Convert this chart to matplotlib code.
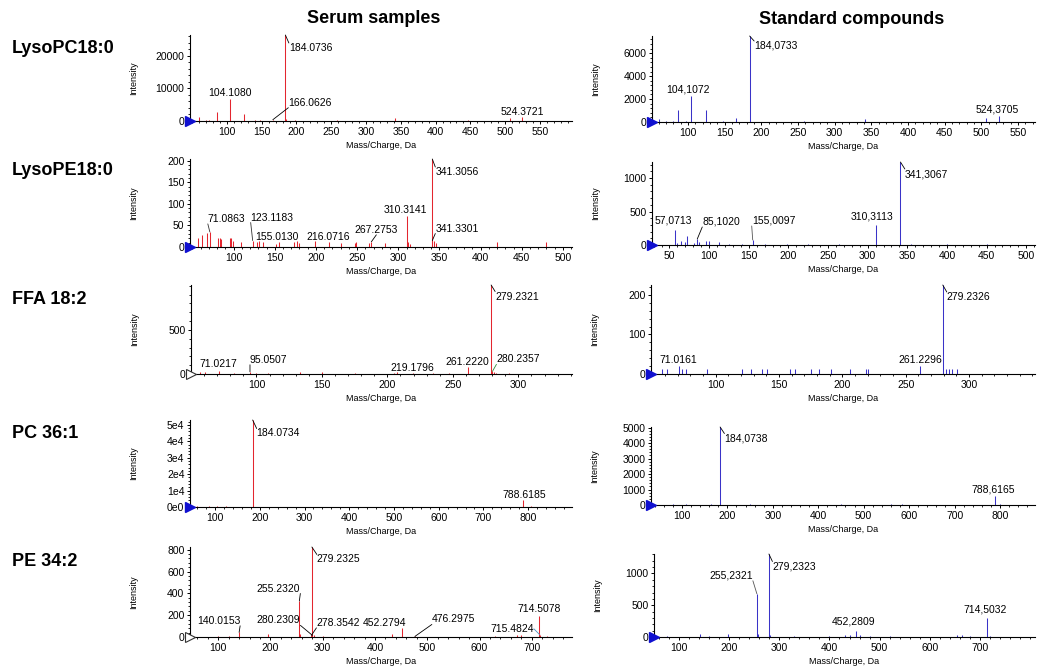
import matplotlib
matplotlib.use("Agg")
import matplotlib.pyplot as plt
from matplotlib.ticker import AutoMinorLocator, FixedLocator, FuncFormatter

W, H, DPI = 1039, 670, 100
PX = 72.0 / DPI  # points per pixel

SERUM_RED = "#e3262f"
STD_BLUE = "#3a33c8"

# ---------------- spectra (m/z, intensity) ----------------
# LysoPC 18:0
lpc_serum_mz = [60.08, 70.07, 75.0, 86.10, 92.0, 104.11, 115.0, 125.00, 140.0, 147.07,
                160.0, 166.06, 184.07, 185.08, 198.09, 215.0, 258.11, 300.0, 341.30,
                390.0, 446.30, 480.0, 506.36, 524.37, 560.0]
lpc_serum_int = [1100, 300, 200, 2770, 150, 6670, 150, 2150, 200, 250,
                 150, 400, 26460, 600, 200, 150, 300, 150, 800,
                 150, 200, 150, 800, 1100, 150]
lpc_serum_labels = ["184.0736", "104.1080", "166.0626", "524.3721"]

lpc_std_mz = [60.08, 70.0, 80.0, 86.10, 98.0, 104.11, 125.00, 148.0, 166.06, 184.07,
              258.0, 341.30, 506.36, 524.37]
lpc_std_int = [260, 80, 90, 1070, 80, 2230, 1070, 80, 350, 7500,
               80, 290, 380, 500]
lpc_std_labels = ["184,0733", "104,1072", "524,3705"]

# LysoPE 18:0
lpe_serum_mz = [57.07, 61.0, 67.05, 71.09, 81.07, 83.09, 85.1, 95.09, 97.1, 99.1, 109.1,
                123.12, 128.0, 131.0, 135.1, 152.0, 155.01, 173.0, 177.0, 180.0, 199.0,
                216.07, 230.0, 247.0, 249.0, 265.0, 267.28, 284.0, 310.31, 312.0, 314.0,
                341.31, 341.33, 343.3, 345.3, 420.0, 480.0]
lpe_serum_int = [20, 28, 33, 35, 20, 22, 18, 20, 21, 15, 12,
                 15, 12, 14, 12, 8, 12, 12, 14, 10, 14,
                 12, 10, 10, 12, 10, 12, 10, 71, 12, 8,
                 204, 15, 14, 10, 12, 12]
lpe_serum_labels = ["341.3056", "310.3141", "341.3301", "267.2753", "216.0716",
                    "155.0130", "123.1183", "71.0863"]

lpe_std_mz = [57.07, 60.0, 65.0, 69.07, 72.0, 81.0, 85.10, 87.0, 96.5, 99.5, 112.0,
              125.0, 141.0, 155.01, 170.0, 198.0, 225.0, 264.0, 310.31, 341.31,
              355.0, 400.0, 450.0]
lpe_std_int = [225, 30, 65, 40, 140, 30, 90, 50, 65, 60, 40,
               15, 15, 75, 10, 15, 10, 15, 305, 1240,
               15, 10, 10]
lpe_std_labels = ["341,3067", "310,3113", "155,0097", "85,1020", "57,0713"]

# FFA 18:2
ffa_serum_mz = [57.0, 60.5, 71.02, 83.0, 95.05, 100.0, 109.0, 133.0, 149.7, 175.0,
                205.0, 207.5, 219.18, 235.0, 247.0, 261.22, 279.23, 280.24, 281.2,
                283.0, 293.0]
ffa_serum_int = [25, 25, 30, 15, 25, 15, 15, 20, 25, 10,
                 15, 20, 10, 10, 10, 75, 1008, 30, 25,
                 15, 10]
ffa_serum_labels = ["279.2321", "261.2220", "280.2357", "219.1796", "95.0507", "71.0217"]

ffa_std_mz = [58.0, 62.0, 71.02, 73.7, 76.8, 93.4, 121.0, 127.6, 136.8, 140.8, 158.7,
              162.6, 175.5, 181.6, 191.3, 206.0, 219.0, 220.5, 261.23, 279.23, 281.6,
              284.2, 286.8, 290.8]
ffa_std_int = [12, 12, 21, 12, 12, 12, 12, 12, 12, 12, 12,
               12, 12, 12, 12, 12, 12, 12, 21, 225, 12,
               12, 12, 12]
ffa_std_labels = ["279.2326", "261.2296", "71.0161"]

# PC 36:1
pc_serum_mz = [60.0, 86.0, 104.0, 125.0, 160.0, 184.07, 200.0, 250.0, 300.0, 350.0,
               400.0, 450.0, 500.0, 550.0, 600.0, 650.0, 700.0, 750.0, 788.62, 806.0]
pc_serum_int = [400, 500, 600, 400, 300, 53000, 300, 300, 200, 200,
                200, 200, 200, 200, 200, 200, 200, 300, 4000, 500]
pc_serum_labels = ["184.0734", "788.6185"]

pc_std_mz = [80.0, 110.0, 165.0, 184.07, 250.0, 450.0, 560.0, 585.0, 788.62, 800.0]
pc_std_int = [60, 50, 50, 5040, 40, 40, 50, 80, 550, 60]
pc_std_labels = ["184,0738", "788,6165"]

# PE 34:2
pe_serum_mz = [100.0, 120.0, 140.02, 196.0, 255.23, 257.0, 278.35, 279.23, 280.23, 283.0,
               300.0, 432.0, 452.28, 476.30, 630.0, 672.0, 680.0, 714.51, 715.48, 730.0]
pe_serum_int = [10, 10, 43, 30, 330, 30, 15, 825, 15, 20,
                10, 25, 83, 5, 10, 20, 15, 190, 20, 10]
pe_serum_labels = ["279.2325", "255.2320", "140.0153", "280.2309", "278.3542",
                   "452.2794", "476.2975", "715.4824", "714.5078"]

pe_std_mz = [75.0, 142.0, 160.0, 198.0, 255.23, 257.0, 279.23, 282.0, 330.0, 400.0,
             430.0, 440.0, 452.28, 460.0, 480.0, 520.0, 655.0, 665.0, 680.0, 714.50, 720.0]
pe_std_int = [20, 53, 20, 42, 680, 40, 1306, 30, 15, 20,
              25, 30, 96, 30, 20, 15, 25, 30, 20, 298, 15]
pe_std_labels = ["279,2323", "255,2321", "452,2809", "714,5032"]

row_names = ["LysoPC18:0", "LysoPE18:0", "FFA 18:2", "PC 36:1", "PE 34:2"]
col_titles = ["Serum samples", "Standard compounds"]

# ---------------- layout ----------------
# label placement: offset from peak top in px (dx, dy up), ha, va, leader colour
PLACE = {
    "184.0736": (3.5, -8, "left", "top", "k"),
    "104.1080": (0, 1, "center", "bottom", None),
    "166.0626": (15.5, 12, "left", "bottom", "k"),
    "524.3721": (0, 0, "center", "bottom", None),
    "184,0733": (4.5, -5, "left", "top", "k"),
    "104,1072": (-3, 2, "center", "bottom", None),
    "524,3705": (-2, 2, "center", "bottom", None),
    "341.3056": (3, -8, "left", "top", "k"),
    "310.3141": (-1, 1, "center", "bottom", None),
    "341.3301": (3, 7, "left", "bottom", "k"),
    "267.2753": (5, 7, "center", "bottom", "k"),
    "216.0716": (-1, 0, "center", "bottom", None),
    "155.0130": (-2, 0, "center", "bottom", None),
    "123.1183": (-2, 18, "left", "bottom", "#333333"),
    "71.0863": (-2, 8, "left", "bottom", "#333333"),
    "341,3067": (4.4, -7, "left", "top", "k"),
    "310,3113": (-4, 3, "center", "bottom", None),
    "155,0097": (-1, 14, "left", "bottom", "#555555"),
    "85,1020": (5, 12, "left", "bottom", "k"),
    "57,0713": (-2, 4, "center", "bottom", None),
    "279.2321": (4, -6.5, "left", "top", "k"),
    "261.2220": (0, 0, "center", "bottom", None),
    "280.2357": (4, 7, "left", "bottom", "#2e8b3a"),
    "219.1796": (0, 0, "center", "bottom", None),
    "95.0507": (0, 7, "left", "bottom", "k"),
    "71.0217": (0, 2, "center", "bottom", None),
    "279.2326": (4, -7, "left", "top", "k"),
    "261.2296": (0, 1, "center", "bottom", None),
    "71.0161": (-1, 1, "center", "bottom", None),
    "184.0734": (4, -8.5, "left", "top", "k"),
    "788.6185": (1, 0, "center", "bottom", None),
    "184,0738": (4.3, -6.5, "left", "top", "k"),
    "788,6165": (-2, 2, "center", "bottom", None),
    "279.2325": (5, -7.5, "left", "top", "k"),
    "255.2320": (1, 7.5, "right", "bottom", "k"),
    "140.0153": (1, 6.5, "right", "bottom", "k"),
    "280.2309": (-12, 10, "right", "bottom", "k"),
    "278.3542": (5, 7.5, "left", "bottom", "k"),
    "452.2794": (-18, 0, "center", "bottom", None),
    "476.2975": (17, 12, "left", "bottom", "k"),
    "715.4824": (-6, 6, "right", "center", "#4a90c0"),
    "714.5078": (0, 2, "center", "bottom", None),
    "279,2323": (3.5, -7.5, "left", "top", "k"),
    "255,2321": (-4, 13, "right", "bottom", "#555555"),
    "452,2809": (-2, 4, "center", "bottom", None),
    "714,5032": (-2, 4, "center", "bottom", None),
}

FONT = ["Liberation Sans", "DejaVu Sans"]

PANELS = [
    dict(mz=lpc_serum_mz, it=lpc_serum_int, labels=lpc_serum_labels, box=(190, 35, 572, 121),
         xlim=(47, 596), xt=range(100, 551, 50), yt=[0, 10000, 20000], c=SERUM_RED, hollow=False),
    dict(mz=lpc_std_mz, it=lpc_std_int, labels=lpc_std_labels, box=(652, 36, 1035, 122),
         xlim=(51, 573), xt=range(100, 551, 50), yt=[0, 2000, 4000, 6000], c=STD_BLUE, hollow=False),
    dict(mz=lpe_serum_mz, it=lpe_serum_int, labels=lpe_serum_labels, box=(190, 159, 572, 247),
         xlim=(47, 511), xt=range(100, 501, 50), yt=[0, 50, 100, 150, 200], c=SERUM_RED, hollow=False),
    dict(mz=lpe_std_mz, it=lpe_std_int, labels=lpe_std_labels, box=(652, 162, 1035, 245),
         xlim=(28, 511), xt=range(50, 501, 50), yt=[0, 500, 1000], c=STD_BLUE, hollow=False),
    dict(mz=ffa_serum_mz, it=ffa_serum_int, labels=ffa_serum_labels, box=(191, 285, 572, 374),
         xlim=(50, 341), xt=range(100, 301, 50), yt=[0, 500], c=SERUM_RED, hollow=True),
    dict(mz=ffa_std_mz, it=ffa_std_int, labels=ffa_std_labels, box=(651, 285, 1035, 374),
         xlim=(49, 352), xt=range(100, 301, 50), yt=[0, 100, 200], c=STD_BLUE, hollow=False),
    dict(mz=pc_serum_mz, it=pc_serum_int, labels=pc_serum_labels, box=(190, 420, 572, 507),
         xlim=(44, 898), xt=range(100, 801, 100), yt=[0, 10000, 20000, 30000, 40000, 50000],
         c=SERUM_RED, hollow=False, sci=True),
    dict(mz=pc_std_mz, it=pc_std_int, labels=pc_std_labels, box=(651, 427, 1035, 505),
         xlim=(32, 877), xt=range(100, 801, 100), yt=[0, 1000, 2000, 3000, 4000, 5000], c=STD_BLUE, hollow=False),
    dict(mz=pe_serum_mz, it=pe_serum_int, labels=pe_serum_labels, box=(190, 547, 572, 637),
         xlim=(46, 777), xt=range(100, 701, 100), yt=[0, 200, 400, 600, 800], c=SERUM_RED, hollow=True),
    dict(mz=pe_std_mz, it=pe_std_int, labels=pe_std_labels, box=(654, 554, 1035, 637),
         xlim=(50, 810), xt=range(100, 701, 100), yt=[0, 500, 1000], c=STD_BLUE, hollow=False),
]


def draw_panel(fig, p):
    l, t, r, b = p["box"]
    ax = fig.add_axes([l / W, 1 - b / H, (r - l) / W, (b - t) / H])
    hpx = b - t
    ax.vlines(p["mz"], 0, p["it"], colors=p["c"], lw=0.75)
    ax.set_xlim(*p["xlim"])
    ax.set_ylim(0, max(p["it"]))
    for s in ("top", "right"):
        ax.spines[s].set_visible(False)
    for s in ("left", "bottom"):
        ax.spines[s].set_linewidth(0.8)
    ax.xaxis.set_major_locator(FixedLocator(list(p["xt"])))
    ax.yaxis.set_major_locator(FixedLocator(p["yt"]))
    ax.xaxis.set_minor_locator(AutoMinorLocator(5))
    ax.yaxis.set_minor_locator(AutoMinorLocator(5))
    if p.get("sci"):
        ax.yaxis.set_major_formatter(FuncFormatter(lambda v, _: "0e0" if v == 0 else f"{int(round(v / 1e4))}e4"))
    else:
        ax.yaxis.set_major_formatter(FuncFormatter(lambda v, _: f"{int(v)}"))
    ax.tick_params(which="major", length=2.5, width=0.7, pad=1.5, labelsize=7.5)
    ax.tick_params(which="minor", length=1.3, width=0.6)
    for lab in ax.get_xticklabels() + ax.get_yticklabels():
        lab.set_fontfamily(FONT)

    ax.set_ylabel("Intensity", fontsize=6.5, family=FONT)
    ax.yaxis.set_label_coords(-52 / (r - l), 0.5)
    ax.set_xlabel("Mass/Charge, Da", fontsize=6.5, family=FONT)
    ax.xaxis.set_label_coords(0.5, -20 / hpx)

    # blue start arrow at the origin
    if p["hollow"]:
        ax.plot([p["xlim"][0]], [0], marker=">", ms=6.5, mfc="white", mec="#333333", mew=0.8, clip_on=False, zorder=6)
    else:
        ax.plot([p["xlim"][0]], [0], marker=">", ms=6.5, color="#1010d0", clip_on=False, zorder=6)

    # peak labels
    for txt in p["labels"]:
        m = float(txt.replace(",", "."))
        i = min(range(len(p["mz"])), key=lambda k: abs(p["mz"][k] - m))
        y = p["it"][i]
        dx, dy, ha, va, lead = PLACE[txt]
        ax.annotate(txt, xy=(m, y), xytext=(dx * PX, dy * PX), textcoords="offset points",
                    ha=ha, va=va, fontsize=7.5, family=FONT, annotation_clip=False)
        if lead:
            ax.annotate("", xy=(m, y), xytext=(dx * PX, dy * PX), textcoords="offset points",
                        arrowprops=dict(arrowstyle="-", color=lead, lw=0.6, shrinkA=0, shrinkB=0),
                        annotation_clip=False)
    return ax


def main():
    fig = plt.figure(figsize=(W / DPI, H / DPI), dpi=DPI)
    for p in PANELS:
        draw_panel(fig, p)

    fig.text(374 / W, 1 - 18.5 / H, col_titles[0], ha="center", va="center",
             fontsize=13, fontweight="bold", family=FONT)
    fig.text(852 / W, 1 - 19.5 / H, col_titles[1], ha="center", va="center",
             fontsize=13, fontweight="bold", family=FONT)
    row_y = [48.5, 170, 299, 434, 562]
    for name, yy in zip(row_names, row_y):
        fig.text(12 / W, 1 - yy / H, name, ha="left", va="center",
                 fontsize=13, fontweight="bold", family=FONT)

    fig.savefig("out.png", dpi=DPI)
    plt.close(fig)


if __name__ == "__main__":
    main()
